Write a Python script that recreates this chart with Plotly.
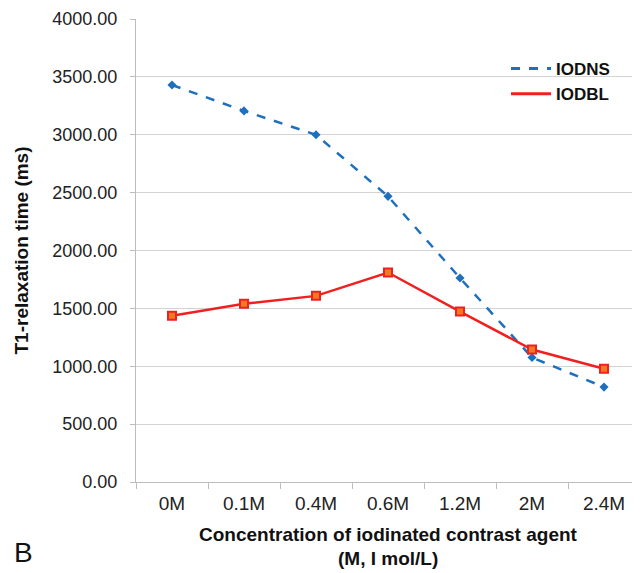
import plotly.graph_objects as go

categories = ["0M", "0.1M", "0.4M", "0.6M", "1.2M", "2M", "2.4M"]
iodns = [3430, 3206, 3000, 2468, 1762, 1075, 820]
iodbl = [1437, 1540, 1608, 1810, 1472, 1144, 979]
y_ticks = [0, 500, 1000, 1500, 2000, 2500, 3000, 3500, 4000]

FONT = "Liberation Sans, Arial, sans-serif"
BLUE = "#1f6fbf"
RED = "#f02020"

# plot area in screenshot pixels (page has an 8px body offset)
X0, X1, Y0, Y1 = 136, 640, 19, 482


def px(x):
    return (x - X0) / (X1 - X0)


def py(y):
    return (Y1 - y) / (Y1 - Y0)


fig = go.Figure()
fig.add_trace(go.Scatter(
    x=categories, y=iodns, name="IODNS", mode="lines+markers", showlegend=False,
    line=dict(color=BLUE, width=2.5, dash="dash"),
    marker=dict(symbol="diamond", size=7, color=BLUE),
))
fig.add_trace(go.Scatter(
    x=categories, y=iodbl, name="IODBL", mode="lines+markers", showlegend=False,
    line=dict(color=RED, width=2.5),
    marker=dict(symbol="square", size=8, color="#f07a20",
                line=dict(color=RED, width=2)),
))
# legend-only entries (lines without markers, as in the reference legend)
fig.add_trace(go.Scatter(
    x=[None], y=[None], name="IODNS", mode="lines",
    line=dict(color=BLUE, width=3, dash="dash"),
))
fig.add_trace(go.Scatter(
    x=[None], y=[None], name="IODBL", mode="lines",
    line=dict(color=RED, width=3),
))

fig.update_layout(
    width=640, height=573,
    margin=dict(l=X0 - 8, r=640 - X1 + 8, t=Y0 - 8, b=573 - Y1 + 8, autoexpand=False),
    paper_bgcolor="white", plot_bgcolor="white",
    font=dict(family=FONT, color="#222222"),
    showlegend=True,
    legend=dict(x=px(506), y=py(51), xanchor="left", yanchor="top",
                bgcolor="rgba(0,0,0,0)",
                font=dict(size=17, family=FONT, color="#111111", weight="bold"),
                tracegroupgap=0, itemwidth=40),
    xaxis=dict(
        type="category", categoryorder="array", categoryarray=categories,
        range=[-0.5, 6.5],
        showline=True, linecolor="#bdbdbd", linewidth=1,
        ticks="outside", tickson="boundaries", ticklen=6, tickcolor="#bdbdbd",
        ticklabelstandoff=4,
        tickfont=dict(size=19, family=FONT, color="#222222"),
        showgrid=False, zeroline=False,
    ),
    yaxis=dict(
        range=[0, 4000], tickvals=y_ticks,
        ticktext=[f"{v:.2f}" for v in y_ticks],
        showline=True, linecolor="#bdbdbd", linewidth=1,
        ticks="outside", ticklen=5, tickcolor="#bdbdbd",
        ticklabelstandoff=9,
        tickfont=dict(size=18, family=FONT, color="#222222"),
        showgrid=True, gridcolor="#d3d3d3", gridwidth=1,
        zeroline=False,
        title=dict(text="T1-relaxation time (ms)",
                   font=dict(size=19, family=FONT, color="#111111", weight="bold"),
                   standoff=18),
    ),
    annotations=[
        dict(text="Concentration of iodinated contrast agent",
             x=0.5, y=py(534), xref="paper", yref="paper",
             xanchor="center", yanchor="middle", showarrow=False,
             font=dict(size=19, family=FONT, color="#111111", weight="bold")),
        dict(text="(M, I mol/L)",
             x=0.5, y=py(558), xref="paper", yref="paper",
             xanchor="center", yanchor="middle", showarrow=False,
             font=dict(size=19, family=FONT, color="#111111", weight="bold")),
        dict(text="B", x=px(23), y=py(552),
             xref="paper", yref="paper", xanchor="center", yanchor="middle",
             showarrow=False,
             font=dict(size=28, family=FONT, color="#111111")),
    ],
)

fig.write_html("out.html")
